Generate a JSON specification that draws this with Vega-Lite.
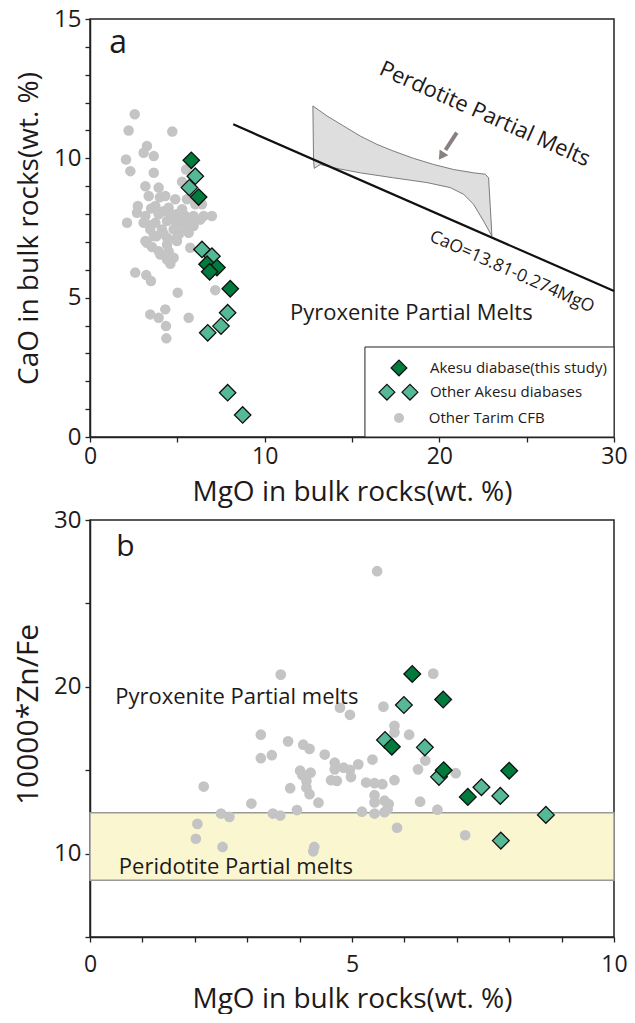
{
  "$schema": "https://vega.github.io/schema/vega-lite/v6.json",
  "padding": {"left": 12, "top": 6, "right": 5, "bottom": 0},
  "spacing": 0,
  "config": {
    "font": "Open Sans",
    "view": {"stroke": "#222", "strokeWidth": 1.5},
    "axis": {"grid": false, "domainColor": "#222", "domainWidth": 1.5, "tickColor": "#222", "tickWidth": 1.3, "tickSize": 5, "labelFontSize": 24, "labelColor": "#1e1a1a", "titleColor": "#1e1a1a", "titleFontWeight": "normal", "labelFont": "Open Sans", "titleFont": "Open Sans", "labelOverlap": false, "labelFlush": false}
  },
  "datasets": {
    "ptsA": [
      {"x":2.56,"y":11.58,"g":"grey"},{"x":2.21,"y":11.0,"g":"grey"},{"x":4.71,"y":10.96,"g":"grey"},{"x":3.26,"y":10.44,"g":"grey"},{"x":3.07,"y":10.2,"g":"grey"},{"x":3.65,"y":10.08,"g":"grey"},{"x":2.06,"y":9.96,"g":"grey"},{"x":2.31,"y":9.54,"g":"grey"},{"x":3.65,"y":9.48,"g":"grey"},{"x":5.5,"y":9.6,"g":"grey"},{"x":5.27,"y":9.16,"g":"grey"},{"x":3.17,"y":9.0,"g":"grey"},{"x":3.93,"y":8.95,"g":"grey"},{"x":3.36,"y":8.65,"g":"grey"},{"x":4.31,"y":8.65,"g":"grey"},{"x":4.88,"y":8.53,"g":"grey"},{"x":5.55,"y":8.53,"g":"grey"},{"x":2.74,"y":8.29,"g":"grey"},{"x":3.74,"y":8.29,"g":"grey"},{"x":4.5,"y":8.23,"g":"grey"},{"x":5.27,"y":8.17,"g":"grey"},{"x":6.03,"y":8.35,"g":"grey"},{"x":6.41,"y":8.35,"g":"grey"},{"x":6.98,"y":7.93,"g":"grey"},{"x":6.51,"y":7.93,"g":"grey"},{"x":6.31,"y":7.8,"g":"grey"},{"x":2.69,"y":8.05,"g":"grey"},{"x":3.17,"y":7.93,"g":"grey"},{"x":3.93,"y":7.99,"g":"grey"},{"x":4.69,"y":7.99,"g":"grey"},{"x":5.46,"y":7.93,"g":"grey"},{"x":5.93,"y":7.93,"g":"grey"},{"x":2.12,"y":7.69,"g":"grey"},{"x":3.07,"y":7.69,"g":"grey"},{"x":3.74,"y":7.69,"g":"grey"},{"x":4.41,"y":7.75,"g":"grey"},{"x":4.88,"y":7.75,"g":"grey"},{"x":5.65,"y":7.69,"g":"grey"},{"x":3.45,"y":7.45,"g":"grey"},{"x":4.12,"y":7.45,"g":"grey"},{"x":4.79,"y":7.45,"g":"grey"},{"x":5.36,"y":7.51,"g":"grey"},{"x":5.93,"y":7.57,"g":"grey"},{"x":3.65,"y":7.21,"g":"grey"},{"x":4.41,"y":7.15,"g":"grey"},{"x":5.08,"y":7.27,"g":"grey"},{"x":5.65,"y":7.33,"g":"grey"},{"x":3.17,"y":7.03,"g":"grey"},{"x":4.41,"y":6.91,"g":"grey"},{"x":4.98,"y":7.03,"g":"grey"},{"x":3.26,"y":6.97,"g":"grey"},{"x":3.55,"y":6.82,"g":"grey"},{"x":3.93,"y":6.67,"g":"grey"},{"x":4.5,"y":6.67,"g":"grey"},{"x":4.79,"y":6.43,"g":"grey"},{"x":5.74,"y":6.79,"g":"grey"},{"x":4.03,"y":6.55,"g":"grey"},{"x":4.6,"y":6.22,"g":"grey"},{"x":4.41,"y":6.37,"g":"grey"},{"x":2.59,"y":5.9,"g":"grey"},{"x":3.22,"y":5.81,"g":"grey"},{"x":3.49,"y":5.6,"g":"grey"},{"x":5.02,"y":5.18,"g":"grey"},{"x":7.17,"y":5.27,"g":"grey"},{"x":3.45,"y":4.4,"g":"grey"},{"x":4.31,"y":4.58,"g":"grey"},{"x":3.93,"y":4.28,"g":"grey"},{"x":4.35,"y":3.98,"g":"grey"},{"x":5.65,"y":4.28,"g":"grey"},{"x":4.37,"y":3.54,"g":"grey"},{"x":4.0,"y":8.6,"g":"grey"},{"x":4.6,"y":8.0,"g":"grey"},{"x":3.5,"y":8.2,"g":"grey"},{"x":4.2,"y":7.3,"g":"grey"},{"x":5.0,"y":8.0,"g":"grey"},{"x":3.8,"y":7.2,"g":"grey"},{"x":4.2,"y":8.1,"g":"grey"},{"x":3.4,"y":7.6,"g":"grey"},{"x":4.9,"y":7.1,"g":"grey"},{"x":5.2,"y":7.7,"g":"grey"},
      {"x":6.03,"y":9.36,"g":"teal"},{"x":5.69,"y":8.95,"g":"teal"},{"x":6.41,"y":6.73,"g":"teal"},{"x":6.98,"y":6.49,"g":"teal"},{"x":7.88,"y":4.46,"g":"teal"},{"x":7.5,"y":3.98,"g":"teal"},{"x":6.74,"y":3.74,"g":"teal"},{"x":7.88,"y":1.59,"g":"teal"},{"x":8.74,"y":0.79,"g":"teal"},
      {"x":5.8,"y":9.93,"g":"dark"},{"x":6.22,"y":8.61,"g":"dark"},{"x":6.7,"y":6.2,"g":"dark"},{"x":7.27,"y":6.08,"g":"dark"},{"x":6.85,"y":5.93,"g":"dark"},{"x":8.03,"y":5.32,"g":"dark"}
    ],
    "ptsB": [
      {"x":5.48,"y":26.93,"g":"grey"},{"x":3.64,"y":20.73,"g":"grey"},{"x":6.55,"y":20.79,"g":"grey"},{"x":5.6,"y":18.81,"g":"grey"},{"x":4.77,"y":18.75,"g":"grey"},{"x":4.96,"y":18.32,"g":"grey"},{"x":5.81,"y":17.66,"g":"grey"},{"x":5.81,"y":17.27,"g":"grey"},{"x":6.09,"y":17.13,"g":"grey"},{"x":3.26,"y":17.13,"g":"grey"},{"x":3.78,"y":16.73,"g":"grey"},{"x":4.07,"y":16.53,"g":"grey"},{"x":4.19,"y":16.28,"g":"grey"},{"x":3.47,"y":15.9,"g":"grey"},{"x":3.26,"y":15.72,"g":"grey"},{"x":4.48,"y":15.94,"g":"grey"},{"x":5.39,"y":15.64,"g":"grey"},{"x":6.4,"y":15.58,"g":"grey"},{"x":5.12,"y":15.35,"g":"grey"},{"x":4.67,"y":15.45,"g":"grey"},{"x":4.67,"y":15.05,"g":"grey"},{"x":4.84,"y":15.15,"g":"grey"},{"x":4.96,"y":15.02,"g":"grey"},{"x":6.26,"y":15.05,"g":"grey"},{"x":4.01,"y":14.97,"g":"grey"},{"x":4.21,"y":14.85,"g":"grey"},{"x":4.05,"y":14.72,"g":"grey"},{"x":6.98,"y":14.82,"g":"grey"},{"x":4.98,"y":14.59,"g":"grey"},{"x":4.6,"y":14.4,"g":"grey"},{"x":4.71,"y":14.36,"g":"grey"},{"x":5.27,"y":14.26,"g":"grey"},{"x":5.43,"y":14.22,"g":"grey"},{"x":5.58,"y":14.16,"g":"grey"},{"x":5.81,"y":14.4,"g":"grey"},{"x":4.13,"y":14.36,"g":"grey"},{"x":4.13,"y":13.96,"g":"grey"},{"x":3.82,"y":13.92,"g":"grey"},{"x":2.17,"y":14.02,"g":"grey"},{"x":4.19,"y":13.56,"g":"grey"},{"x":5.43,"y":13.5,"g":"grey"},{"x":5.43,"y":13.07,"g":"grey"},{"x":5.62,"y":13.17,"g":"grey"},{"x":5.7,"y":12.97,"g":"grey"},{"x":6.3,"y":13.11,"g":"grey"},{"x":3.08,"y":13.0,"g":"grey"},{"x":4.36,"y":13.05,"g":"grey"},{"x":3.95,"y":12.61,"g":"grey"},{"x":5.68,"y":12.67,"g":"grey"},{"x":6.63,"y":12.63,"g":"grey"},{"x":5.19,"y":12.51,"g":"grey"},{"x":5.43,"y":12.4,"g":"grey"},{"x":5.62,"y":12.48,"g":"grey"},{"x":2.5,"y":12.4,"g":"grey"},{"x":2.66,"y":12.2,"g":"grey"},{"x":3.49,"y":12.4,"g":"grey"},{"x":3.63,"y":12.28,"g":"grey"},{"x":2.05,"y":11.78,"g":"grey"},{"x":5.86,"y":11.55,"g":"grey"},{"x":7.16,"y":11.1,"g":"grey"},{"x":2.02,"y":10.89,"g":"grey"},{"x":2.53,"y":10.4,"g":"grey"},{"x":4.28,"y":10.4,"g":"grey"},{"x":4.26,"y":10.14,"g":"grey"},
      {"x":5.99,"y":18.91,"g":"teal"},{"x":5.63,"y":16.81,"g":"teal"},{"x":6.39,"y":16.37,"g":"teal"},{"x":6.66,"y":14.6,"g":"teal"},{"x":7.47,"y":13.98,"g":"teal"},{"x":7.83,"y":13.46,"g":"teal"},{"x":8.7,"y":12.32,"g":"teal"},{"x":7.84,"y":10.78,"g":"teal"},
      {"x":6.15,"y":20.77,"g":"dark"},{"x":6.74,"y":19.24,"g":"dark"},{"x":5.76,"y":16.41,"g":"dark"},{"x":6.75,"y":15.0,"g":"dark"},{"x":8.0,"y":14.97,"g":"dark"},{"x":7.21,"y":13.4,"g":"dark"}
    ],
    "polyA": [
      {"i":1,"x":12.76,"y":11.88},{"i":2,"x":13.57,"y":11.52},{"i":3,"x":14.52,"y":11.16},{"i":4,"x":15.47,"y":10.8},{"i":5,"x":16.43,"y":10.5},{"i":6,"x":17.38,"y":10.26},{"i":7,"x":18.52,"y":10.0},{"i":8,"x":19.67,"y":9.78},{"i":9,"x":20.81,"y":9.6},{"i":10,"x":21.96,"y":9.48},{"i":11,"x":22.63,"y":9.43},{"i":12,"x":22.82,"y":9.3},{"i":13,"x":22.92,"y":8.23},{"i":14,"x":23.01,"y":7.21},{"i":15,"x":22.53,"y":7.75},{"i":16,"x":21.96,"y":8.35},{"i":17,"x":21.39,"y":8.71},{"i":18,"x":20.62,"y":8.95},{"i":19,"x":19.29,"y":9.13},{"i":20,"x":17.38,"y":9.3},{"i":21,"x":15.47,"y":9.48},{"i":22,"x":13.95,"y":9.66},{"i":23,"x":13.18,"y":9.78},{"i":24,"x":12.84,"y":9.64},{"i":25,"x":12.8,"y":9.9},{"i":26,"x":12.76,"y":11.88}
    ],
    "lineA": [{"x":8.2,"y":11.22},{"x":30,"y":5.24}],
    "arrowA": [{"x":21.0,"y":10.92,"xe":20.35,"ye":10.3}],
    "arrowHeadA": [{"x":20.12,"y":10.08}],
    "legBox": [{"x":15.74,"x2":30,"y":0,"y2":3.23}],
    "legSym": [{"x":17.69,"y":2.48,"g":"dark"},{"x":17.0,"y":1.61,"g":"teal"},{"x":18.32,"y":1.61,"g":"teal"},{"x":17.69,"y":0.68,"g":"grey"}],
    "legTxt": [{"x":19.46,"y":2.48,"label":"Akesu diabase(this study)"},{"x":19.46,"y":1.61,"label":"Other Akesu diabases"},{"x":19.4,"y":0.68,"label":"Other Tarim CFB"}],
    "bandB": [{"x":0,"x2":10,"y":8.4,"y2":12.45}]
  },
  "vconcat": [
    {
      "width": 524,
      "height": 418,
      "encoding": {
        "x": {"field": "x", "type": "quantitative", "scale": {"domain": [0, 30], "nice": false, "zero": false},
          "axis": {"title": "MgO in bulk rocks(wt. %)", "values": [0,5,10,15,20,25,30], "labelExpr": "datum.value % 10 === 0 ? datum.label : ''", "labelFontSize": 23, "titleFontSize": 28, "titlePadding": 10, "labelPadding": 3}},
        "y": {"field": "y", "type": "quantitative", "scale": {"domain": [0, 15], "nice": false, "zero": false},
          "axis": {"title": "CaO in bulk rocks(wt. %)", "values": [0,1,2,3,4,5,6,7,8,9,10,11,12,13,14,15], "labelExpr": "datum.value % 5 === 0 ? datum.label : ''", "titleFontSize": 28, "titlePadding": 10, "labelPadding": 4}}
      },
      "layer": [
        {"data": {"name": "polyA"}, "mark": {"type": "line", "fill": "#dedede", "stroke": "#6e6e6e", "strokeWidth": 0.9}, "encoding": {"order": {"field": "i", "type": "quantitative"}}},
        {"data": {"name": "lineA"}, "mark": {"type": "line", "color": "#111", "strokeWidth": 2.2}, "encoding": {}},
        {"data": {"name": "arrowA"}, "mark": {"type": "rule", "color": "#8a8080", "strokeWidth": 4}, "encoding": {"x2": {"field": "xe"}, "y2": {"field": "ye"}}},
        {"data": {"name": "arrowHeadA"}, "mark": {"type": "point", "shape": "triangle-up", "angle": 214, "size": 110, "filled": true, "color": "#8a8080", "opacity": 1}},
        {"data": {"name": "ptsA"}, "transform": [{"filter": "datum.g === 'grey'"}], "mark": {"type": "circle", "size": 110, "color": "#c4c4c4", "opacity": 1}},
        {"data": {"name": "ptsA"}, "transform": [{"filter": "datum.g === 'teal'"}], "mark": {"type": "point", "shape": "diamond", "size": 270, "filled": true, "fill": "#55b996", "stroke": "#111", "strokeWidth": 1.3, "opacity": 1}},
        {"data": {"name": "ptsA"}, "transform": [{"filter": "datum.g === 'dark'"}], "mark": {"type": "point", "shape": "diamond", "size": 270, "filled": true, "fill": "#007a3d", "stroke": "#111", "strokeWidth": 1.3, "opacity": 1}},
        {"data": {"values": [{"x": 1.1, "y": 14.15, "label": "a"}]}, "mark": {"type": "text", "align": "left", "baseline": "middle", "fontSize": 32, "color": "#1e1a1a"}, "encoding": {"text": {"field": "label"}}},
        {"data": {"values": [{"x": 22.61, "y": 11.59, "label": "Perdotite Partial Melts"}]}, "mark": {"type": "text", "align": "center", "baseline": "middle", "fontSize": 22, "angle": 24, "color": "#1e1a1a"}, "encoding": {"text": {"field": "label"}}},
        {"data": {"values": [{"x": 24.16, "y": 5.92, "label": "CaO=13.81-0.274MgO"}]}, "mark": {"type": "text", "align": "center", "baseline": "middle", "fontSize": 17.5, "angle": 24, "color": "#1e1a1a"}, "encoding": {"text": {"field": "label"}}},
        {"data": {"values": [{"x": 11.45, "y": 4.45, "label": "Pyroxenite Partial Melts"}]}, "mark": {"type": "text", "align": "left", "baseline": "middle", "fontSize": 22, "color": "#1e1a1a"}, "encoding": {"text": {"field": "label"}}},
        {"data": {"name": "legBox"}, "mark": {"type": "rect", "fill": "white", "stroke": "#222", "strokeWidth": 1}, "encoding": {"x2": {"field": "x2"}, "y2": {"field": "y2"}}},
        {"data": {"name": "legSym"}, "transform": [{"filter": "datum.g === 'grey'"}], "mark": {"type": "circle", "size": 100, "color": "#c4c4c4", "opacity": 1}},
        {"data": {"name": "legSym"}, "transform": [{"filter": "datum.g === 'teal'"}], "mark": {"type": "point", "shape": "diamond", "size": 250, "filled": true, "fill": "#55b996", "stroke": "#111", "strokeWidth": 1.2, "opacity": 1}},
        {"data": {"name": "legSym"}, "transform": [{"filter": "datum.g === 'dark'"}], "mark": {"type": "point", "shape": "diamond", "size": 250, "filled": true, "fill": "#007a3d", "stroke": "#111", "strokeWidth": 1.2, "opacity": 1}},
        {"data": {"name": "legTxt"}, "mark": {"type": "text", "align": "left", "baseline": "middle", "fontSize": 15, "color": "#1e1a1a"}, "encoding": {"text": {"field": "label"}}}
      ]
    },
    {
      "width": 524,
      "height": 417,
      "encoding": {
        "x": {"field": "x", "type": "quantitative", "scale": {"domain": [0, 10], "nice": false, "zero": false},
          "axis": {"title": "MgO in bulk rocks(wt. %)", "values": [0,1,2,3,4,5,6,7,8,9,10], "labelExpr": "datum.value % 5 === 0 ? datum.label : ''", "labelFontSize": 23, "titleFontSize": 28, "titlePadding": 9, "labelPadding": 11}},
        "y": {"field": "y", "type": "quantitative", "scale": {"domain": [5, 30], "nice": false, "zero": false},
          "axis": {"title": "10000*Zn/Fe", "values": [5,10,15,20,25,30], "labelExpr": "datum.value % 10 === 0 ? datum.label : ''", "titleFontSize": 30, "titlePadding": 10, "labelPadding": 4, "titleY": 194}}
      },
      "layer": [
        {"data": {"name": "bandB"}, "mark": {"type": "rect", "fill": "#faf7d0", "stroke": "#9a9a9a", "strokeWidth": 1.5}, "encoding": {"x2": {"field": "x2"}, "y2": {"field": "y2"}}},
        {"data": {"name": "ptsB"}, "transform": [{"filter": "datum.g === 'grey'"}], "mark": {"type": "circle", "size": 115, "color": "#c4c4c4", "opacity": 1}},
        {"data": {"name": "ptsB"}, "transform": [{"filter": "datum.g === 'teal'"}], "mark": {"type": "point", "shape": "diamond", "size": 280, "filled": true, "fill": "#55b996", "stroke": "#111", "strokeWidth": 1.3, "opacity": 1}},
        {"data": {"name": "ptsB"}, "transform": [{"filter": "datum.g === 'dark'"}], "mark": {"type": "point", "shape": "diamond", "size": 280, "filled": true, "fill": "#007a3d", "stroke": "#111", "strokeWidth": 1.3, "opacity": 1}},
        {"data": {"values": [{"x": 0.5, "y": 28.4, "label": "b"}]}, "mark": {"type": "text", "align": "left", "baseline": "middle", "fontSize": 30, "color": "#1e1a1a"}, "encoding": {"text": {"field": "label"}}},
        {"data": {"values": [{"x": 0.48, "y": 19.37, "label": "Pyroxenite Partial melts"}, {"x": 0.55, "y": 9.2, "label": "Peridotite Partial melts"}]}, "mark": {"type": "text", "align": "left", "baseline": "middle", "fontSize": 22, "color": "#1e1a1a"}, "encoding": {"text": {"field": "label"}}}
      ]
    }
  ]
}
